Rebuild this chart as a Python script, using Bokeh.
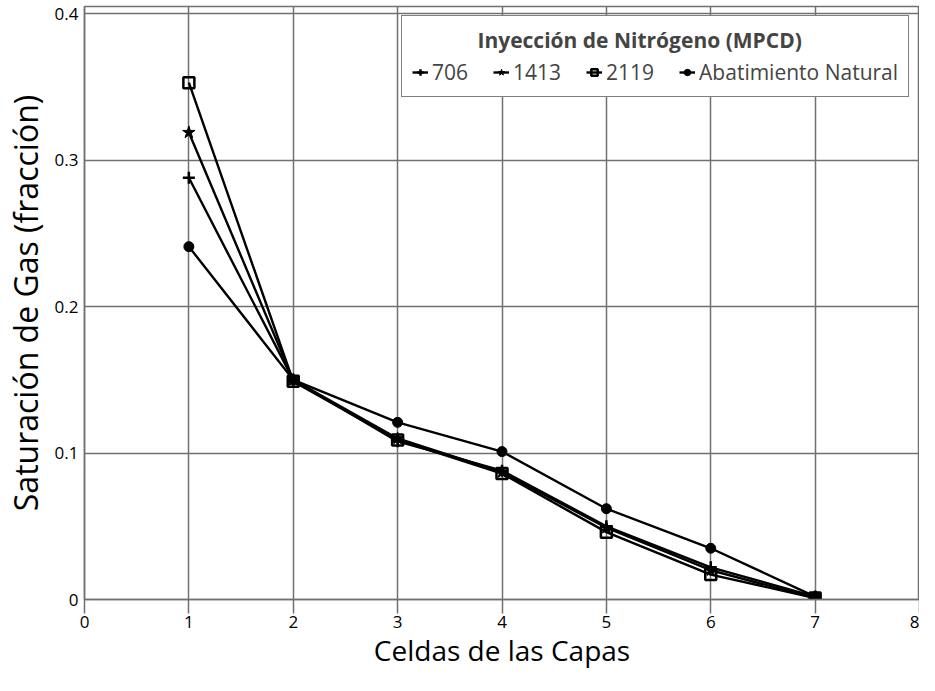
from bokeh.plotting import figure
from bokeh.models import Range1d, Legend, LegendItem, FixedTicker
from bokeh.embed import file_html
from bokeh.resources import INLINE

cells = [1, 2, 3, 4, 5, 6, 7]
s706 = [0.288, 0.150, 0.108, 0.088, 0.050, 0.022, 0.002]
s1413 = [0.319, 0.150, 0.110, 0.087, 0.049, 0.020, 0.001]
s2119 = [0.353, 0.149, 0.109, 0.086, 0.046, 0.017, 0.001]
natural = [0.241, 0.150, 0.121, 0.101, 0.062, 0.035, 0.002]

x_ticks = [0, 1, 2, 3, 4, 5, 6, 7, 8]
y_ticks = [0, 0.1, 0.2, 0.3, 0.4]
y_tick_labels = {0: "0", 0.1: "0.1", 0.2: "0.2", 0.3: "0.3", 0.4: "0.4"}

FONT = "Open Sans"
GRID = "#707070"

p = figure(width=919, height=675, output_backend="svg", toolbar_location=None,
           x_range=Range1d(0, 8), y_range=Range1d(0, 0.405),
           min_border_left=75, min_border_right=0, min_border_top=6, min_border_bottom=76)

p.outline_line_color = GRID
p.outline_line_width = 1.5
p.xgrid.grid_line_color = GRID
p.ygrid.grid_line_color = GRID
p.xgrid.grid_line_width = 1.5
p.ygrid.grid_line_width = 1.5

p.xaxis.ticker = FixedTicker(ticks=x_ticks)
p.yaxis.ticker = FixedTicker(ticks=y_ticks)
p.yaxis.major_label_overrides = y_tick_labels
for ax in (p.xaxis, p.yaxis):
    ax.axis_line_color = GRID
    ax.axis_line_width = 1.5
    ax.major_tick_line_color = GRID
    ax.major_tick_line_width = 1.5
    ax.minor_tick_line_color = None
    ax.major_label_text_font = FONT
    ax.major_label_text_font_size = "17px"
    ax.major_label_text_color = "black"
    ax.axis_label_text_font = FONT
    ax.axis_label_text_font_style = "normal"
    ax.axis_label_text_color = "black"

p.xaxis.axis_label_text_font_size = "28px"
p.yaxis.axis_label_text_font_size = "32px"
p.xaxis.major_tick_in = 0
p.xaxis.major_tick_out = 14
p.xaxis.major_label_standoff = 2
p.xaxis.axis_label_standoff = 0
p.yaxis.major_tick_in = 0
p.yaxis.major_tick_out = 0
p.yaxis.major_label_standoff = 6
p.yaxis.axis_label_standoff = 5
p.xaxis.axis_label = "Celdas de las Capas"
p.yaxis.axis_label = "Saturación de Gas (fracción)"

items = []
series = [
    ("706", s706, "cross", dict(line_width=2.5, size=12)),
    ("1413", s1413, "star", dict(line_width=1, size=13, fill_color="black")),
    ("2119", s2119, "square", dict(line_width=2.5, size=11, fill_color=None)),
    ("Abatimiento Natural", natural, "circle", dict(line_width=1, size=10, fill_color="black")),
]
for name, ys, marker, kw in series:
    l = p.line(cells, ys, line_color="black", line_width=2.4)
    s = p.scatter(cells, ys, marker=marker, line_color="black", **kw)
    items.append(LegendItem(label=name, renderers=[l, s]))

legend = Legend(items=items, orientation="horizontal", location=(317, 502),
                title="\u00a0" * 12 + "Inyección de Nitrógeno (MPCD)")
legend.title_text_font = FONT
legend.title_text_font_style = "bold"
legend.title_text_font_size = "21px"
legend.title_standoff = 4
legend.label_text_font = FONT
legend.label_text_font_size = "21px"
legend.glyph_width = 16
legend.label_standoff = 4
legend.spacing = 25
legend.padding = 10
legend.margin = 0
legend.border_line_color = "black"
legend.border_line_width = 1.5
legend.background_fill_alpha = 1
p.add_layout(legend)

open("out.html", "w").write(file_html(p, INLINE))
